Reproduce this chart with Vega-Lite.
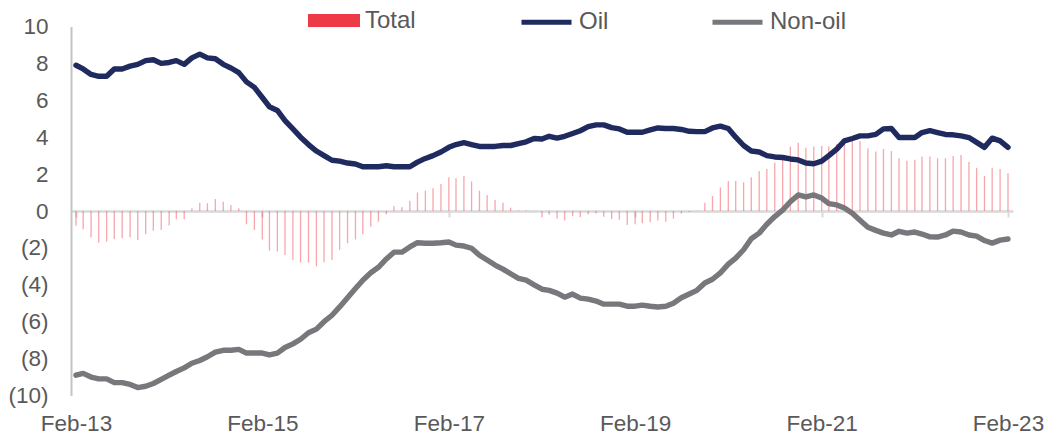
{
  "$schema": "https://vega.github.io/schema/vega-lite/v6.json",
  "width": 942,
  "height": 369,
  "autosize": "none",
  "padding": {"left": 71, "top": 26.5, "right": 42, "bottom": 39.5},
  "background": "white",
  "config": {
    "view": {"stroke": null},
    "font": "Liberation Sans"
  },
  "data": {
    "values": [
      {"date": "2013-02-01", "total": -0.8, "oil": 7.9, "nonoil": -8.9},
      {"date": "2013-03-01", "total": -0.99, "oil": 7.7, "nonoil": -8.8},
      {"date": "2013-04-01", "total": -1.43, "oil": 7.4, "nonoil": -9.0},
      {"date": "2013-05-01", "total": -1.72, "oil": 7.3, "nonoil": -9.1},
      {"date": "2013-06-01", "total": -1.66, "oil": 7.3, "nonoil": -9.1},
      {"date": "2013-07-01", "total": -1.52, "oil": 7.7, "nonoil": -9.3},
      {"date": "2013-08-01", "total": -1.48, "oil": 7.7, "nonoil": -9.3},
      {"date": "2013-09-01", "total": -1.43, "oil": 7.85, "nonoil": -9.4},
      {"date": "2013-10-01", "total": -1.57, "oil": 7.95, "nonoil": -9.57},
      {"date": "2013-11-01", "total": -1.26, "oil": 8.15, "nonoil": -9.5},
      {"date": "2013-12-01", "total": -1.07, "oil": 8.2, "nonoil": -9.35},
      {"date": "2014-01-01", "total": -1.03, "oil": 8.0, "nonoil": -9.13},
      {"date": "2014-02-01", "total": -0.78, "oil": 8.05, "nonoil": -8.9},
      {"date": "2014-03-01", "total": -0.45, "oil": 8.15, "nonoil": -8.7},
      {"date": "2014-04-01", "total": -0.45, "oil": 7.95, "nonoil": -8.5},
      {"date": "2014-05-01", "total": 0.15, "oil": 8.3, "nonoil": -8.25},
      {"date": "2014-06-01", "total": 0.45, "oil": 8.5, "nonoil": -8.1},
      {"date": "2014-07-01", "total": 0.42, "oil": 8.3, "nonoil": -7.9},
      {"date": "2014-08-01", "total": 0.65, "oil": 8.25, "nonoil": -7.65},
      {"date": "2014-09-01", "total": 0.5, "oil": 7.95, "nonoil": -7.55},
      {"date": "2014-10-01", "total": 0.33, "oil": 7.75, "nonoil": -7.55},
      {"date": "2014-11-01", "total": 0.15, "oil": 7.5, "nonoil": -7.5},
      {"date": "2014-12-01", "total": -0.72, "oil": 7.0, "nonoil": -7.7},
      {"date": "2015-01-01", "total": -1.03, "oil": 6.7, "nonoil": -7.7},
      {"date": "2015-02-01", "total": -1.54, "oil": 6.15, "nonoil": -7.7},
      {"date": "2015-03-01", "total": -2.15, "oil": 5.65, "nonoil": -7.8},
      {"date": "2015-04-01", "total": -2.2, "oil": 5.45, "nonoil": -7.7},
      {"date": "2015-05-01", "total": -2.38, "oil": 4.9, "nonoil": -7.4},
      {"date": "2015-06-01", "total": -2.66, "oil": 4.45, "nonoil": -7.2},
      {"date": "2015-07-01", "total": -2.8, "oil": 4.0, "nonoil": -6.95},
      {"date": "2015-08-01", "total": -2.8, "oil": 3.6, "nonoil": -6.6},
      {"date": "2015-09-01", "total": -3.0, "oil": 3.25, "nonoil": -6.4},
      {"date": "2015-10-01", "total": -2.78, "oil": 3.0, "nonoil": -6.0},
      {"date": "2015-11-01", "total": -2.66, "oil": 2.75, "nonoil": -5.65},
      {"date": "2015-12-01", "total": -2.11, "oil": 2.7, "nonoil": -5.2},
      {"date": "2016-01-01", "total": -1.75, "oil": 2.6, "nonoil": -4.7},
      {"date": "2016-02-01", "total": -1.54, "oil": 2.55, "nonoil": -4.2},
      {"date": "2016-03-01", "total": -1.26, "oil": 2.4, "nonoil": -3.75},
      {"date": "2016-04-01", "total": -0.85, "oil": 2.4, "nonoil": -3.35},
      {"date": "2016-05-01", "total": -0.58, "oil": 2.4, "nonoil": -3.05},
      {"date": "2016-06-01", "total": -0.18, "oil": 2.45, "nonoil": -2.6},
      {"date": "2016-07-01", "total": 0.27, "oil": 2.4, "nonoil": -2.23},
      {"date": "2016-08-01", "total": 0.2, "oil": 2.4, "nonoil": -2.23},
      {"date": "2016-09-01", "total": 0.56, "oil": 2.4, "nonoil": -1.95},
      {"date": "2016-10-01", "total": 1.0, "oil": 2.65, "nonoil": -1.72},
      {"date": "2016-11-01", "total": 1.1, "oil": 2.85, "nonoil": -1.75},
      {"date": "2016-12-01", "total": 1.23, "oil": 3.0, "nonoil": -1.75},
      {"date": "2017-01-01", "total": 1.47, "oil": 3.2, "nonoil": -1.72},
      {"date": "2017-02-01", "total": 1.83, "oil": 3.45, "nonoil": -1.68},
      {"date": "2017-03-01", "total": 1.77, "oil": 3.6, "nonoil": -1.85},
      {"date": "2017-04-01", "total": 1.9, "oil": 3.7, "nonoil": -1.9},
      {"date": "2017-05-01", "total": 1.6, "oil": 3.6, "nonoil": -2.02},
      {"date": "2017-06-01", "total": 1.1, "oil": 3.5, "nonoil": -2.4},
      {"date": "2017-07-01", "total": 0.87, "oil": 3.5, "nonoil": -2.66},
      {"date": "2017-08-01", "total": 0.6, "oil": 3.5, "nonoil": -2.93},
      {"date": "2017-09-01", "total": 0.45, "oil": 3.55, "nonoil": -3.15},
      {"date": "2017-10-01", "total": 0.18, "oil": 3.55, "nonoil": -3.4},
      {"date": "2017-11-01", "total": 0.04, "oil": 3.65, "nonoil": -3.65},
      {"date": "2017-12-01", "total": 0.04, "oil": 3.75, "nonoil": -3.75},
      {"date": "2018-01-01", "total": -0.02, "oil": 3.93, "nonoil": -4.0},
      {"date": "2018-02-01", "total": -0.34, "oil": 3.9, "nonoil": -4.24},
      {"date": "2018-03-01", "total": -0.2, "oil": 4.05, "nonoil": -4.3},
      {"date": "2018-04-01", "total": -0.4, "oil": 3.95, "nonoil": -4.45},
      {"date": "2018-05-01", "total": -0.52, "oil": 4.05, "nonoil": -4.67},
      {"date": "2018-06-01", "total": -0.27, "oil": 4.2, "nonoil": -4.5},
      {"date": "2018-07-01", "total": -0.34, "oil": 4.35, "nonoil": -4.72},
      {"date": "2018-08-01", "total": -0.18, "oil": 4.57, "nonoil": -4.78},
      {"date": "2018-09-01", "total": -0.13, "oil": 4.67, "nonoil": -4.88},
      {"date": "2018-10-01", "total": -0.31, "oil": 4.67, "nonoil": -5.05},
      {"date": "2018-11-01", "total": -0.43, "oil": 4.52, "nonoil": -5.05},
      {"date": "2018-12-01", "total": -0.48, "oil": 4.45, "nonoil": -5.05},
      {"date": "2019-01-01", "total": -0.76, "oil": 4.27, "nonoil": -5.16},
      {"date": "2019-02-01", "total": -0.72, "oil": 4.27, "nonoil": -5.16},
      {"date": "2019-03-01", "total": -0.67, "oil": 4.27, "nonoil": -5.1},
      {"date": "2019-04-01", "total": -0.61, "oil": 4.4, "nonoil": -5.16},
      {"date": "2019-05-01", "total": -0.52, "oil": 4.5, "nonoil": -5.2},
      {"date": "2019-06-01", "total": -0.58, "oil": 4.47, "nonoil": -5.16},
      {"date": "2019-07-01", "total": -0.42, "oil": 4.47, "nonoil": -5.0},
      {"date": "2019-08-01", "total": -0.13, "oil": 4.42, "nonoil": -4.7},
      {"date": "2019-09-01", "total": -0.06, "oil": 4.32, "nonoil": -4.5},
      {"date": "2019-10-01", "total": 0.02, "oil": 4.3, "nonoil": -4.3},
      {"date": "2019-11-01", "total": 0.45, "oil": 4.3, "nonoil": -3.9},
      {"date": "2019-12-01", "total": 0.81, "oil": 4.5, "nonoil": -3.7},
      {"date": "2020-01-01", "total": 1.28, "oil": 4.6, "nonoil": -3.35},
      {"date": "2020-02-01", "total": 1.63, "oil": 4.47, "nonoil": -2.88},
      {"date": "2020-03-01", "total": 1.63, "oil": 4.0, "nonoil": -2.55},
      {"date": "2020-04-01", "total": 1.56, "oil": 3.55, "nonoil": -2.1},
      {"date": "2020-05-01", "total": 1.83, "oil": 3.25, "nonoil": -1.5},
      {"date": "2020-06-01", "total": 2.17, "oil": 3.2, "nonoil": -1.2},
      {"date": "2020-07-01", "total": 2.28, "oil": 3.0, "nonoil": -0.72},
      {"date": "2020-08-01", "total": 2.62, "oil": 2.93, "nonoil": -0.3},
      {"date": "2020-09-01", "total": 2.86, "oil": 2.9, "nonoil": 0.05},
      {"date": "2020-10-01", "total": 3.49, "oil": 2.82, "nonoil": 0.5},
      {"date": "2020-11-01", "total": 3.7, "oil": 2.77, "nonoil": 0.87},
      {"date": "2020-12-01", "total": 3.43, "oil": 2.6, "nonoil": 0.76},
      {"date": "2021-01-01", "total": 3.49, "oil": 2.56, "nonoil": 0.87},
      {"date": "2021-02-01", "total": 3.52, "oil": 2.7, "nonoil": 0.7},
      {"date": "2021-03-01", "total": 3.49, "oil": 3.0, "nonoil": 0.4},
      {"date": "2021-04-01", "total": 3.63, "oil": 3.35, "nonoil": 0.33},
      {"date": "2021-05-01", "total": 3.76, "oil": 3.8, "nonoil": 0.16},
      {"date": "2021-06-01", "total": 3.85, "oil": 3.93, "nonoil": -0.12},
      {"date": "2021-07-01", "total": 3.8, "oil": 4.07, "nonoil": -0.5},
      {"date": "2021-08-01", "total": 3.4, "oil": 4.07, "nonoil": -0.88},
      {"date": "2021-09-01", "total": 3.22, "oil": 4.15, "nonoil": -1.05},
      {"date": "2021-10-01", "total": 3.36, "oil": 4.45, "nonoil": -1.2},
      {"date": "2021-11-01", "total": 3.25, "oil": 4.47, "nonoil": -1.3},
      {"date": "2021-12-01", "total": 2.86, "oil": 3.98, "nonoil": -1.1},
      {"date": "2022-01-01", "total": 2.73, "oil": 3.98, "nonoil": -1.2},
      {"date": "2022-02-01", "total": 2.78, "oil": 3.98, "nonoil": -1.14},
      {"date": "2022-03-01", "total": 2.96, "oil": 4.25, "nonoil": -1.25},
      {"date": "2022-04-01", "total": 2.96, "oil": 4.35, "nonoil": -1.4},
      {"date": "2022-05-01", "total": 2.86, "oil": 4.25, "nonoil": -1.41},
      {"date": "2022-06-01", "total": 2.86, "oil": 4.15, "nonoil": -1.3},
      {"date": "2022-07-01", "total": 2.98, "oil": 4.13, "nonoil": -1.09},
      {"date": "2022-08-01", "total": 3.03, "oil": 4.07, "nonoil": -1.14},
      {"date": "2022-09-01", "total": 2.66, "oil": 3.98, "nonoil": -1.3},
      {"date": "2022-10-01", "total": 2.34, "oil": 3.72, "nonoil": -1.36},
      {"date": "2022-11-01", "total": 1.9, "oil": 3.45, "nonoil": -1.6},
      {"date": "2022-12-01", "total": 2.34, "oil": 3.95, "nonoil": -1.74},
      {"date": "2023-01-01", "total": 2.28, "oil": 3.8, "nonoil": -1.58},
      {"date": "2023-02-01", "total": 2.04, "oil": 3.45, "nonoil": -1.52}
    ]
  },
  "layer": [
    {
      "mark": {"type": "bar", "size": 1.3, "opacity": 0.45, "stroke": null},
      "encoding": {
        "x": {
          "field": "date",
          "type": "temporal",
          "scale": {"type": "utc", "domain": [{"year": 2013, "month": 2, "date": 1, "utc": true}, {"year": 2023, "month": 2, "date": 1, "utc": true}]},
          "axis": {
            "orient": "bottom",
            "title": null,
            "format": "%b-%y",
            "values": [
              {"year": 2013, "month": 2, "date": 1, "utc": true},
              {"year": 2015, "month": 2, "date": 1, "utc": true},
              {"year": 2017, "month": 2, "date": 1, "utc": true},
              {"year": 2019, "month": 2, "date": 1, "utc": true},
              {"year": 2021, "month": 2, "date": 1, "utc": true},
              {"year": 2023, "month": 2, "date": 1, "utc": true}
            ],
            "domain": false,
            "ticks": false,
            "tickSize": 0,
            "grid": false,
            "labelPadding": 16.5,
            "labelFontSize": 22.5,
            "labelColor": "#595959",
            "labelFlush": false,
            "labelOverlap": false,
            "labelBound": false
          }
        },
        "y": {
          "field": "total",
          "type": "quantitative",
          "scale": {"domain": [-10, 10], "nice": false},
          "axis": {
            "orient": "left",
            "title": null,
            "values": [-10, -8, -6, -4, -2, 0, 2, 4, 6, 8, 10],
            "labelExpr": "datum.value < 0 ? '(' + abs(datum.value) + ')' : datum.value + ' '",
            "domain": true,
            "domainColor": "#c4c4c4",
            "domainWidth": 2,
            "ticks": false,
            "tickSize": 0,
            "grid": false,
            "labelPadding": 23,
            "labelFontSize": 22.5,
            "labelColor": "#595959",
            "labelFlush": false,
            "labelOverlap": false,
            "labelBound": false,
            "labelSeparation": 0,
            "zindex": 1
          }
        },
        "fill": {
          "datum": "Total",
          "scale": {"domain": ["Total"], "range": ["#ee3a46"]},
          "legend": {
            "title": null,
            "orient": "none",
            "legendX": 237,
            "legendY": -32,
            "direction": "horizontal",
            "padding": 0,
            "symbolType": "M-1,-0.25H1V0.25H-1Z",
            "symbolSize": 2704,
            "symbolStrokeWidth": 0,
            "symbolOpacity": 1,
            "labelFontSize": 24,
            "labelColor": "#595959",
            "labelOffset": 5
          }
        }
      }
    },
    {
      "mark": {"type": "line", "strokeWidth": 5.4, "strokeJoin": "round", "strokeCap": "round"},
      "encoding": {
        "x": {
          "field": "date",
          "type": "temporal",
          "axis": {
            "orient": "bottom",
            "offset": -184.5,
            "title": null,
            "labels": false,
            "values": [
              {"year": 2013, "month": 2, "date": 1, "utc": true},
              {"year": 2015, "month": 2, "date": 1, "utc": true},
              {"year": 2017, "month": 2, "date": 1, "utc": true},
              {"year": 2019, "month": 2, "date": 1, "utc": true},
              {"year": 2021, "month": 2, "date": 1, "utc": true},
              {"year": 2023, "month": 2, "date": 1, "utc": true}
            ],
            "domain": true,
            "domainColor": "#d9d9d9",
            "domainWidth": 2.5,
            "ticks": true,
            "tickColor": "#d9d9d9",
            "tickWidth": 2,
            "tickSize": 6,
            "grid": false,
            "zindex": 0
          }
        },
        "y": {"field": "oil", "type": "quantitative", "axis": null},
        "stroke": {
          "datum": "Oil",
          "scale": {"domain": ["Oil", "Non-oil"], "range": ["#1f2a5e", "#78777c"]},
          "legend": {
            "title": null,
            "orient": "none",
            "legendX": 448,
            "legendY": -32,
            "direction": "horizontal",
            "padding": 0,
            "symbolType": "stroke",
            "symbolSize": 2500,
            "symbolStrokeWidth": 5,
            "labelFontSize": 24,
            "labelColor": "#595959",
            "labelOffset": 5,
            "columnPadding": 93
          }
        }
      }
    },
    {
      "mark": {"type": "line", "strokeWidth": 5.4, "strokeJoin": "round", "strokeCap": "round"},
      "encoding": {
        "x": {"field": "date", "type": "temporal", "axis": null},
        "y": {"field": "nonoil", "type": "quantitative", "axis": null},
        "stroke": {"datum": "Non-oil"}
      }
    }
  ],
  "resolve": {"axis": {"x": "independent", "y": "independent"}}
}
